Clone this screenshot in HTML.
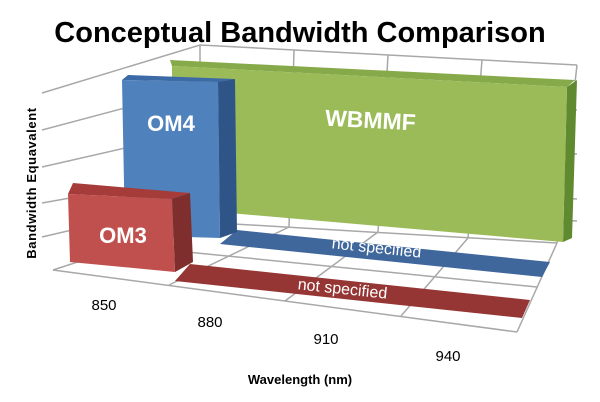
<!DOCTYPE html>
<html><head><meta charset="utf-8"><style>
body{margin:0;background:#fff}
svg{display:block}
text{font-family:"Liberation Sans","DejaVu Sans",sans-serif}
</style></head><body>
<svg width="600" height="402" viewBox="0 0 600 402" xmlns="http://www.w3.org/2000/svg">
<rect width="600" height="402" fill="#fff"/>
<text x="300" y="42" text-anchor="middle" font-size="29" font-weight="bold" fill="#000">Conceptual Bandwidth Comparison</text>
<g stroke="#a8a8a8" stroke-width="1.5" fill="none">
<polyline points="42,93 200,45 577,65"/>
<polyline points="42,130 200,88 577,110"/>
<polyline points="42,167 200,131 577,154"/>
<polyline points="42,203 200,175 577,199"/>
<polyline points="42,237 200,200 577,221"/>
<line x1="53" y1="270" x2="200" y2="222"/>
<line x1="200" y1="45" x2="200" y2="222"/>
<line x1="577" y1="65" x2="557" y2="243"/>
<line x1="294" y1="50" x2="289" y2="227"/>
<line x1="388" y1="55" x2="378" y2="232"/>
<line x1="482" y1="60" x2="468" y2="238"/>
<line x1="200" y1="222" x2="557" y2="243"/>
<line x1="53" y1="270" x2="517" y2="332"/>
<line x1="557" y1="243" x2="517" y2="332"/>
<line x1="169" y1="285" x2="289" y2="227"/>
<line x1="285" y1="301" x2="378" y2="232"/>
<line x1="401" y1="316" x2="468" y2="238"/>
<line x1="127" y1="246" x2="537" y2="287"/>
</g>
<polygon points="170,60 575,80 567,87 172,66" fill="#86aa4a"/>
<polygon points="567,87 577,80 572,238 563,242" fill="#5f8a30"/>
<polygon points="172,66 567,87 563,242 172,208" fill="#9bbb59"/>
<text x="370" y="128" text-anchor="middle" font-size="23" font-weight="bold" fill="#fff" transform="rotate(3 370 128)">WBMMF</text>
<polygon points="237,230 550,262 542,277 220,244" fill="#3f679b"/>
<text x="376" y="253" text-anchor="middle" font-size="16" fill="#fff" transform="rotate(6 376 253)">not specified</text>
<polygon points="122,80 128,75 235,79 218,82" fill="#3b6aa6"/>
<polygon points="218,82 235,79 237,232 220,238" fill="#2f5588"/>
<polygon points="122,80 218,82 220,238 125,235" fill="#4f81bd"/>
<text x="171" y="131" text-anchor="middle" font-size="22" font-weight="bold" fill="#fff">OM4</text>
<polygon points="190,264 530,300 522,318 175,281" fill="#963634"/>
<text x="342" y="294" text-anchor="middle" font-size="16" fill="#fff" transform="rotate(6 342 294)">not specified</text>
<polygon points="68,194 73,183 190,193 172,199" fill="#a53c3a"/>
<polygon points="172,199 190,193 193,262 175,272" fill="#7e2e2c"/>
<polygon points="68,194 172,199 175,272 70,262" fill="#c0504d"/>
<text x="123" y="243" text-anchor="middle" font-size="22" font-weight="bold" fill="#fff">OM3</text>
<g font-size="15" fill="#000" text-anchor="middle">
<text x="104" y="310">850</text>
<text x="210" y="327">880</text>
<text x="326" y="344">910</text>
<text x="448" y="361">940</text>
</g>
<text x="300" y="384" text-anchor="middle" font-size="13" font-weight="bold">Wavelength (nm)</text>
<text x="0" y="0" text-anchor="middle" font-size="13" font-weight="bold" letter-spacing="0.6" transform="translate(36,183) rotate(-90)">Bandwidth  Equavalent</text>
</svg>
</body></html>
